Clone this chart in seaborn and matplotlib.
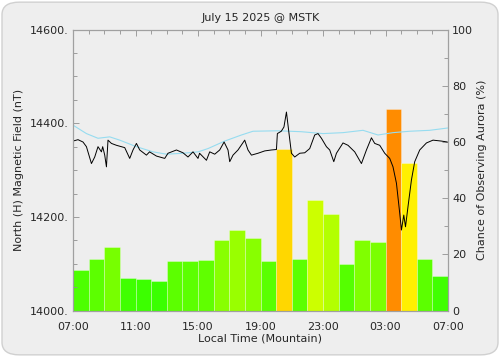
import numpy as np
import pandas as pd
import matplotlib
matplotlib.use("Agg")
import matplotlib.pyplot as plt
from matplotlib.patches import FancyBboxPatch
from matplotlib.ticker import MultipleLocator, FuncFormatter
import seaborn as sns

# hourly chance of aurora (%) from 07:00 to 07:00 next day
hours = [i + 0.5 for i in range(24)]
chance = [14.4, 18.2, 22.5, 11.5, 11.1, 10.5, 17.6, 17.6, 18.1, 25.3, 28.6, 25.8,
          17.6, 57.5, 18.3, 39.4, 34.4, 16.5, 25.1, 24.4, 71.7, 52.6, 18.3, 12.3]
bar_colors = ["#4dff00", "#5cff00", "#77ff00", "#40ff00", "#3cff00", "#3aff00",
              "#5cff00", "#5cff00", "#60ff00", "#88ff00", "#99ff00", "#88ff00",
              "#5aff00", "#ffd700", "#5cff00", "#ccff00", "#b3ff00", "#55ff00",
              "#80ff00", "#7aff00", "#ff8c00", "#fff000", "#5cff00", "#40ff00"]

# measured H component (nT), hours since 07:00
mag_t = [0.0, 0.32, 0.64, 0.86, 1.18, 1.39, 1.6, 1.82, 1.9, 2.03, 2.14, 2.24, 2.46,
         2.78, 3.31, 3.63, 3.84, 4.06, 4.27, 4.7, 4.9, 5.34, 5.87, 6.08, 6.62, 7.04,
         7.36, 7.68, 8.0, 8.1, 8.54, 8.75, 9.07, 9.39, 9.67, 9.92, 10.03, 10.24,
         10.56, 10.99, 11.2, 11.42, 11.84, 12.27, 12.7, 13.02, 13.08, 13.33, 13.5,
         13.66, 13.8, 13.98, 14.19, 14.51, 14.83, 15.15, 15.47, 15.68, 15.9, 16.22,
         16.43, 16.69, 16.86, 17.28, 17.6, 18.03, 18.46, 18.78, 19.1, 19.31, 19.63,
         19.95, 20.27, 20.48, 20.7, 20.91, 21.02, 21.17, 21.28, 21.44, 21.66, 21.87,
         22.19, 22.62, 23.04, 23.58, 23.96]
mag_h = [14362, 14365, 14360, 14350, 14314, 14328, 14350, 14339, 14350, 14332,
         14307, 14364, 14357, 14353, 14348, 14325, 14343, 14357, 14343, 14332,
         14339, 14330, 14325, 14336, 14343, 14337, 14328, 14339, 14325, 14336,
         14321, 14339, 14334, 14343, 14360, 14343, 14318, 14332, 14343, 14364,
         14343, 14332, 14336, 14341, 14343, 14344, 14378, 14383, 14392, 14424,
         14385, 14336, 14328, 14336, 14337, 14346, 14375, 14378, 14368, 14350,
         14343, 14318, 14336, 14358, 14353, 14339, 14314, 14343, 14369, 14357,
         14353, 14336, 14325, 14307, 14272, 14208, 14172, 14204, 14179, 14222,
         14279, 14318, 14343, 14358, 14364, 14362, 14360]

# quiet-day baseline (nT)
base_t = [0.0, 0.86, 1.6, 2.35, 2.99, 4.06, 5.12, 5.98, 7.04, 8.0, 8.64, 9.71,
          10.78, 11.52, 13.12, 14.61, 16.0, 17.28, 18.56, 19.52, 20.48, 21.55,
          22.83, 24.0]
base_h = [14396, 14378, 14368, 14371, 14364, 14350, 14339, 14334, 14336, 14339,
          14346, 14362, 14375, 14383, 14384, 14382, 14378, 14380, 14385, 14375,
          14380, 14383, 14385, 14390]

tick_labels = ["07:00", "11:00", "15:00", "19:00", "23:00", "03:00", "07:00"]

grey = "#eeeeee"
sns.set_style("white")
plt.rcParams['font.family'] = ['DejaVu Sans']

fig = plt.figure(figsize=(5, 3.57), dpi=100, facecolor="white")
fig.patches.append(FancyBboxPatch((0.004, 0.006), 0.992, 0.988,
                                  boxstyle="round,pad=0,rounding_size=0.035",
                                  transform=fig.transFigure, facecolor=grey,
                                  edgecolor="#d0d0d0", linewidth=1.0, zorder=-10))

ax = fig.add_axes([0.146, 0.130, 0.750, 0.787])
ax2 = ax.twinx()

# bars on the right axis (drawn underneath)
bars = pd.DataFrame({"hour": hours, "chance": chance,
                     "key": [str(i) for i in range(24)]})
sns.barplot(data=bars, x="hour", y="chance", hue="key", palette=bar_colors,
            native_scale=True, width=1, dodge=False, legend=False, saturation=1,
            edgecolor=(1, 1, 1, 0.35), linewidth=0.6, ax=ax2)
ax2.set_facecolor(grey)
ax2.set_ylim(0, 100)
ax2.yaxis.set_major_locator(MultipleLocator(20))
ax2.yaxis.set_minor_locator(MultipleLocator(10))
ax2.set_ylabel("Chance of Observing Aurora (%)", fontsize=8, labelpad=3)

# magnetometer lines on the left axis, on top
ax.set_zorder(ax2.get_zorder() + 1)
ax.patch.set_visible(False)
sns.lineplot(x=base_t, y=base_h, color="#96dcf0", linewidth=0.8, sort=False,
             estimator=None, ax=ax)
sns.lineplot(x=mag_t, y=mag_h, color="black", linewidth=0.7, sort=False,
             estimator=None, ax=ax)
ax.set_ylim(14000, 14600)
ax.set_xlim(0, 24)
ax2.set_xlim(0, 24)
ax.yaxis.set_major_locator(MultipleLocator(200))
ax.yaxis.set_minor_locator(MultipleLocator(50))
ax.yaxis.set_major_formatter(FuncFormatter(lambda v, p: f"{int(v)}."))
ax.set_xticks(range(0, 25, 4))
ax.set_xticklabels(tick_labels)
ax.xaxis.set_minor_locator(MultipleLocator(1))
ax.set_title("July 15 2025 @ MSTK", fontsize=8, pad=6)

for a in (ax, ax2):
    for s in a.spines.values():
        s.set_color("#a0a0a0")
        s.set_linewidth(0.8)
    a.tick_params(which="both", direction="in", color="#909090", labelsize=8,
                  width=0.6, pad=3)
    a.tick_params(which="major", length=4)
    a.tick_params(which="minor", length=3)
ax.tick_params(axis="x", which="both", top=True, pad=8)
ax2.tick_params(axis="x", which="both", bottom=False, top=False, labelbottom=False)
ax2.set_xlabel("")
ax.set_xlabel("Local Time (Mountain)", fontsize=8, labelpad=1)
ax.set_ylabel("North (H) Magnetic Field (nT)", fontsize=8, labelpad=4)

fig.savefig("out.png", dpi=100, facecolor="white")
